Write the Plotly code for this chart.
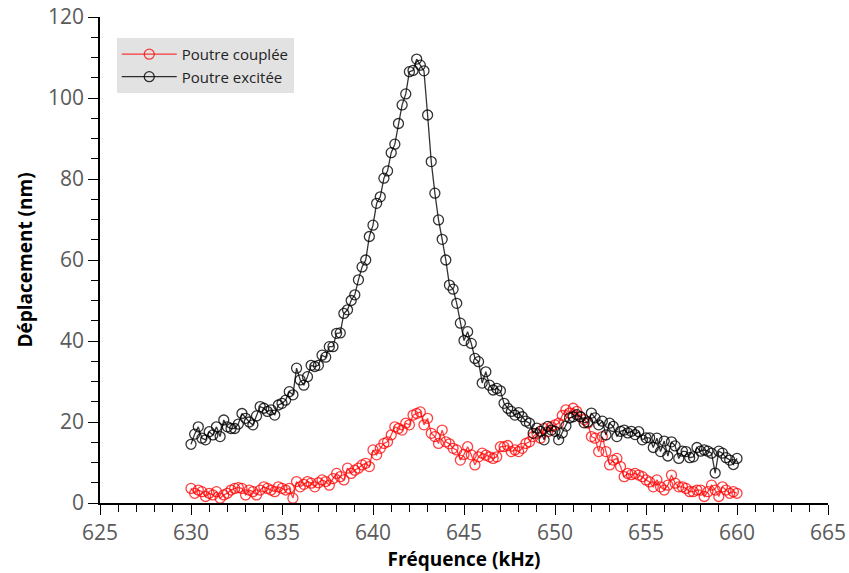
import numpy as np
import plotly.graph_objects as go

# Frequency sweep (kHz), 0.2 kHz step
freq_khz = np.round(np.arange(630.0, 660.0 + 1e-9, 0.2), 1)

# Displacement of the excited beam (nm)
excitee_nm = [
    14.5, 17.0, 18.8, 16.0, 15.6, 17.6, 16.8, 18.8, 16.4, 20.5,   # 630.0 - 631.8
    18.8, 18.4, 18.4, 19.5, 22.1, 20.9, 20.0, 19.3, 21.5, 23.8,   # 632.0 - 633.8
    23.4, 22.6, 23.0, 21.7, 24.2, 24.6, 25.4, 27.5, 26.7, 33.3,   # 634.0 - 635.8
    30.4, 29.1, 31.2, 34.0, 33.7, 34.0, 36.5, 36.0, 38.6, 38.6,   # 636.0 - 637.8
    41.9, 42.0, 46.8, 47.7, 50.0, 51.4, 55.1, 58.3, 60.0, 65.8,   # 638.0 - 639.8
    68.6, 74.0, 75.6, 80.2, 82.0, 86.5, 88.6, 93.7, 98.3, 101.0,  # 640.0 - 641.8
    106.5, 106.8, 109.6, 108.1, 106.7, 95.8, 84.3, 76.5, 69.9, 65.1,  # 642.0 - 643.8
    60.0, 53.8, 52.8, 49.3, 44.4, 40.1, 42.3, 39.4, 35.7, 34.9,   # 644.0 - 645.8
    29.6, 32.4, 29.1, 27.9, 28.3, 27.7, 24.6, 23.4, 22.6, 21.7,   # 646.0 - 647.8
    22.3, 21.3, 20.2, 19.7, 17.2, 18.5, 17.7, 15.6, 18.9, 18.0,   # 648.0 - 649.8
    17.7, 15.6, 17.3, 19.0, 21.0, 21.3, 21.8, 21.3, 19.8, 20.0,   # 650.0 - 651.8
    22.2, 21.0, 19.3, 20.2, 16.8, 19.7, 18.9, 16.4, 17.7, 18.0,   # 652.0 - 653.8
    17.3, 17.7, 16.9, 17.6, 15.6, 16.1, 16.1, 13.7, 16.0, 12.7,   # 654.0 - 655.8
    15.3, 11.6, 15.1, 14.1, 11.0, 12.8, 12.7, 11.2, 11.4, 13.7,   # 656.0 - 657.8
    12.8, 13.1, 12.8, 12.3, 7.4, 12.8, 12.3, 11.2, 10.6, 9.5,     # 658.0 - 659.8
    11.0,                                                         # 660.0
]

# Displacement of the coupled beam (nm)
couplee_nm = [
    3.6, 2.4, 3.2, 2.8, 1.6, 2.4, 2.0, 2.8, 1.2, 2.0,             # 630.0 - 631.8
    2.4, 3.2, 3.6, 3.8, 3.6, 2.0, 3.2, 2.8, 2.0, 3.2,             # 632.0 - 633.8
    4.0, 3.6, 3.2, 2.8, 4.0, 3.6, 3.2, 3.6, 1.2, 5.3,             # 634.0 - 635.8
    4.0, 4.6, 5.3, 4.9, 4.0, 5.0, 5.7, 5.3, 4.4, 6.0,             # 636.0 - 637.8
    7.3, 6.5, 5.7, 8.6, 7.3, 8.1, 8.6, 9.4, 9.8, 9.0,             # 638.0 - 639.8
    13.1, 11.9, 13.5, 14.7, 15.1, 16.8, 18.8, 18.4, 18.0, 19.7,   # 640.0 - 641.8
    19.3, 21.7, 22.1, 22.5, 19.3, 20.9, 17.2, 16.4, 14.7, 18.0,   # 642.0 - 643.8
    15.1, 14.6, 13.5, 13.1, 10.6, 12.0, 13.9, 11.9, 9.4, 11.4,    # 644.0 - 645.8
    12.3, 11.8, 11.4, 11.0, 11.4, 13.9, 13.9, 14.2, 12.7, 13.1,   # 646.0 - 647.8
    12.7, 13.5, 14.7, 15.1, 16.4, 17.2, 16.0, 18.4, 17.6, 18.8,   # 648.0 - 649.8
    19.3, 19.7, 21.6, 23.0, 22.2, 23.4, 22.6, 21.3, 20.6, 19.7,   # 650.0 - 651.8
    16.4, 16.0, 12.7, 16.4, 12.7, 9.4, 10.6, 11.0, 9.0, 6.5,      # 652.0 - 653.8
    7.3, 7.0, 7.3, 6.9, 6.5, 5.7, 5.2, 4.0, 5.7, 4.0,             # 654.0 - 655.8
    3.2, 4.4, 6.9, 4.9, 4.0, 4.0, 3.6, 2.8, 2.8, 3.2,             # 656.0 - 657.8
    3.2, 1.6, 2.8, 4.4, 3.2, 1.6, 4.0, 3.2, 2.4, 2.8,             # 658.0 - 659.8
    2.4,                                                          # 660.0
]

series_names = ["Poutre couplée", "Poutre excitée"]
series_colors = ["rgba(255,0,0,0.75)", "rgba(0,0,0,0.8)"]

x_range = [625, 665]
y_range = [0, 120]

fig = go.Figure()
for name, values, color in zip(series_names, [couplee_nm, excitee_nm], series_colors):
    fig.add_trace(go.Scatter(
        x=freq_khz, y=values, name=name, mode="lines+markers",
        line=dict(color=color, width=1.3),
        marker=dict(symbol="circle-open", size=10, color=color,
                    line=dict(width=1.3, color=color)),
    ))

tick_font = dict(family="Open Sans, sans-serif", size=21, color="#5a5a5a")
title_font = dict(family="Open Sans, sans-serif", size=19, color="#000000")

fig.update_layout(
    width=849, height=573,
    margin=dict(l=100, r=21, t=17, b=70, autoexpand=False),
    paper_bgcolor="white", plot_bgcolor="white",
    showlegend=True,
    legend=dict(
        x=0.023, y=0.957, xanchor="left", yanchor="top",
        bgcolor="#e2e2e2", borderwidth=0,
        font=dict(family="Open Sans, sans-serif", size=15, color="#222222"),
        tracegroupgap=0, itemwidth=55,
    ),
    xaxis=dict(
        range=x_range, dtick=5, tick0=625, automargin=False,
        showgrid=False, zeroline=False,
        showline=True, linecolor="black", linewidth=1.5,
        ticks="outside", ticklen=10, tickwidth=1.2, tickcolor="black",
        minor=dict(dtick=1, ticks="outside", ticklen=7, tickwidth=1.2,
                   tickcolor="black", showgrid=False),
        tickfont=tick_font,
        title=dict(text="<b>Fréquence (kHz)</b>", font=title_font, standoff=4),
    ),
    yaxis=dict(
        range=y_range, dtick=20, tick0=0, automargin=False,
        showgrid=False, zeroline=False,
        showline=True, linecolor="black", linewidth=1.5,
        ticks="outside", ticklen=10, tickwidth=1.2, tickcolor="black",
        minor=dict(dtick=5, ticks="outside", ticklen=7, tickwidth=1.2,
                   tickcolor="black", showgrid=False),
        tickfont=tick_font,
        title=dict(text="<b>Déplacement (nm)</b>", font=title_font, standoff=10),
    ),
)

fig.write_html("out.html")
